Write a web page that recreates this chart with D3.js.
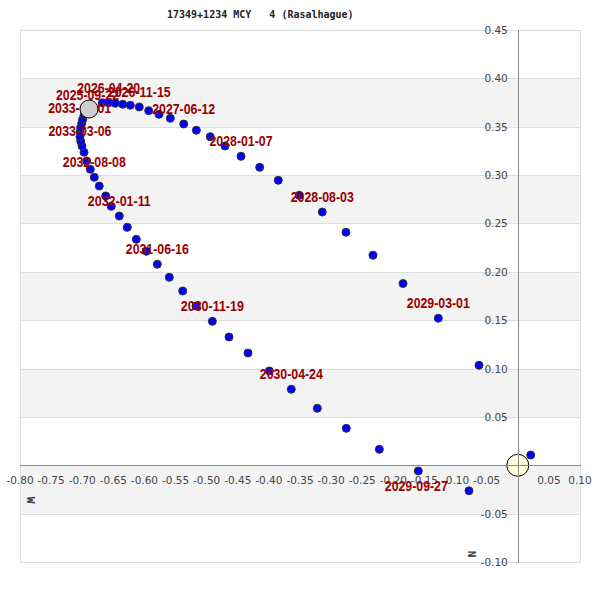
<!DOCTYPE html>
<html>
<head>
<meta charset="utf-8">
<script src="https://cdn.jsdelivr.net/npm/d3@7"></script>
<style>
  html, body { margin: 0; padding: 0; background: #fff; }
  svg { display: block; }
</style>
</head>
<body>
<svg id="chart" width="600" height="600"></svg>
<script>
// ---------- data ----------
const title = "17349+1234 MCY   4 (Rasalhague)";
const xTicks = [-0.80,-0.75,-0.70,-0.65,-0.60,-0.55,-0.50,-0.45,-0.40,-0.35,-0.30,-0.25,-0.20,-0.15,-0.10,-0.05,0.05,0.10];
const yTicks = [0.45,0.40,0.35,0.30,0.25,0.20,0.15,0.10,0.05,-0.05,-0.10];
const orbitX = [-0.6891,-0.6677,-0.6574,-0.6468,-0.6349,-0.6227,-0.6083,-0.5932,-0.5766,-0.5584,
  -0.5369,-0.5166,-0.4942,-0.4705,-0.4448,-0.4148,-0.3849,-0.3511,-0.3142,-0.2761,
  -0.2327,-0.1844,-0.1277,-0.0623,0.0208,-0.0784,-0.1599,-0.2225,-0.2756,-0.3222,
  -0.3640,-0.3993,-0.4336,-0.4641,-0.4909,-0.5171,-0.5385,-0.5600,-0.5793,-0.5970,
  -0.6131,-0.6275,-0.6404,-0.6533,-0.6623,-0.6726,-0.6806,-0.6870,-0.6928,-0.6971,
  -0.7004,-0.7024,-0.7036,-0.7036,-0.7024,-0.7008,-0.6992,-0.6971];
const orbitY = [0.3683,0.3748,0.3748,0.3742,0.3732,0.3722,0.3704,0.3666,0.3628,0.3587,
  0.3528,0.3463,0.3397,0.3301,0.3194,0.3080,0.2946,0.2791,0.2618,0.2409,
  0.2171,0.1879,0.1520,0.1034,0.0106,-0.0264,-0.0059,0.0165,0.0382,0.0589,
  0.0786,0.0975,0.1161,0.1326,0.1488,0.1647,0.1802,0.1943,0.2078,0.2212,
  0.2336,0.2460,0.2577,0.2677,0.2784,0.2887,0.2977,0.3060,0.3146,0.3236,
  0.3301,0.3349,0.3397,0.3446,0.3490,0.3535,0.3577,0.3621];
const labelDates = ["2025-09-22","2026-04-20","2026-11-15","2027-06-12","2028-01-07","2028-08-03",
  "2029-03-01","2029-09-27","2030-04-24","2030-11-19","2031-06-16","2032-01-11","2032-08-08",
  "2033-03-06","2033-10-01"];
const labelPoint = [0,2,6,10,14,18,22,26,30,34,38,42,46,50,54];
const primary = [0, 0];
const secondaryStart = [-0.6891, 0.3683];

// ---------- layout ----------
const W = 600, H = 600;
const plot = { left: 20, right: 580, top: 30, bottom: 562 };
// label placement in px relative to the point (text centre, baseline)
const labelShift = { "2029-09-27": [-2, 20], "2033-10-01": [-1, -14.5], "2033-03-06": [-2, -10], "2025-09-22": [-1.5, -9] };
const defaultShift = [0, -10];

const svg = d3.select("#chart");
const x = d3.scaleLinear().domain([-0.80, 0.10]).range([plot.left, plot.right]);
const y = d3.scaleLinear().domain([-0.10, 0.45]).range([plot.bottom, plot.top]);

// bands
const bandLows = d3.range(-2, 9).map(i => i * 0.05);
svg.append("g").selectAll("rect").data(bandLows.filter(v => Math.abs(Math.round(v / 0.05)) % 2 === 1))
  .join("rect")
  .attr("x", plot.left).attr("width", plot.right - plot.left)
  .attr("y", d => y(d + 0.05)).attr("height", d => y(d) - y(d + 0.05))
  .attr("fill", "#f3f3f3");

// gridlines
svg.append("g").selectAll("line").data(yTicks)
  .join("line")
  .attr("x1", plot.left).attr("x2", plot.right)
  .attr("y1", d => Math.round(y(d)) + 0.5).attr("y2", d => Math.round(y(d)) + 0.5)
  .attr("stroke", "#dddddd");

// border
svg.append("rect")
  .attr("x", plot.left + 0.5).attr("y", plot.top + 0.5)
  .attr("width", plot.right - plot.left).attr("height", plot.bottom - plot.top)
  .attr("fill", "none").attr("stroke", "#dddddd");

// primary star
svg.append("circle")
  .attr("cx", x(primary[0])).attr("cy", y(primary[1])).attr("r", 11)
  .attr("fill", "#ffffdd").attr("stroke", "#000").attr("stroke-width", 1);

// zero axes
const x0 = Math.round(x(0)) + 0.5, y0 = Math.round(y(0)) + 0.5;
svg.append("line").attr("x1", x0).attr("x2", x0).attr("y1", plot.top).attr("y2", plot.bottom + 1)
  .attr("stroke", "#888");
svg.append("line").attr("x1", plot.left).attr("x2", plot.right + 1).attr("y1", y0).attr("y2", y0)
  .attr("stroke", "#888");

// tick labels (hyphen-minus as in the reference)
const fmt = v => d3.format(".2f")(v).replace("\u2212", "-");
svg.append("g").selectAll("text").data(xTicks)
  .join("text")
  .attr("x", d => x(d)).attr("y", y(0) + 18.5)
  .attr("text-anchor", "middle")
  .attr("font-family", "DejaVu Sans, sans-serif").attr("font-size", 10.5)
  .attr("fill", "#444")
  .text(d => fmt(d));
svg.append("g").selectAll("text").data(yTicks)
  .join("text")
  .attr("x", x(0) - 10).attr("y", d => y(d) + 4)
  .attr("text-anchor", "end")
  .attr("font-family", "DejaVu Sans, sans-serif").attr("font-size", 10.5)
  .attr("fill", "#444")
  .text(d => fmt(d));

// orbit points
const pts = orbitX.map((v, i) => [v, orbitY[i]]);
svg.append("g").selectAll("circle").data(pts)
  .join("circle")
  .attr("cx", d => x(d[0])).attr("cy", d => y(d[1])).attr("r", 4)
  .attr("fill", "#0000ff").attr("stroke", "#333").attr("stroke-width", 1);

// date labels
svg.append("g").selectAll("text").data(labelDates)
  .join("text")
  .each(function(d, i) {
    const p = pts[labelPoint[i]];
    const s = labelShift[d] || defaultShift;
    d3.select(this)
      .attr("x", x(p[0]) + s[0])
      .attr("y", y(p[1]) + s[1]);
  })
  .attr("text-anchor", "middle")
  .attr("font-family", "Liberation Sans, Arial, sans-serif")
  .attr("font-weight", "bold").attr("font-size", 14)
  .attr("textLength", 63).attr("lengthAdjust", "spacingAndGlyphs")
  .attr("fill", "#990000")
  .text(d => d);

// secondary start position
svg.append("circle")
  .attr("cx", x(secondaryStart[0])).attr("cy", y(secondaryStart[1])).attr("r", 9)
  .attr("fill", "#d0cccc").attr("stroke", "#000").attr("stroke-width", 1);

// title
svg.append("text")
  .attr("x", 167).attr("y", 17.5)
  .attr("font-family", "DejaVu Sans Mono, monospace").attr("font-weight", "bold")
  .attr("font-size", 10).attr("fill", "#222")
  .attr("xml:space", "preserve")
  .style("white-space", "pre")
  .text(title);

// direction letters
svg.append("text")
  .attr("transform", `translate(27,500) rotate(90)`)
  .attr("text-anchor", "middle")
  .attr("font-family", "DejaVu Sans Mono, monospace").attr("font-weight", "bold")
  .attr("font-size", 11).attr("fill", "#333")
  .text("W");
svg.append("text")
  .attr("transform", `translate(468,554) rotate(90)`)
  .attr("text-anchor", "middle")
  .attr("font-family", "DejaVu Sans Mono, monospace").attr("font-weight", "bold")
  .attr("font-size", 11).attr("fill", "#333")
  .text("N");
</script>
</body>
</html>
